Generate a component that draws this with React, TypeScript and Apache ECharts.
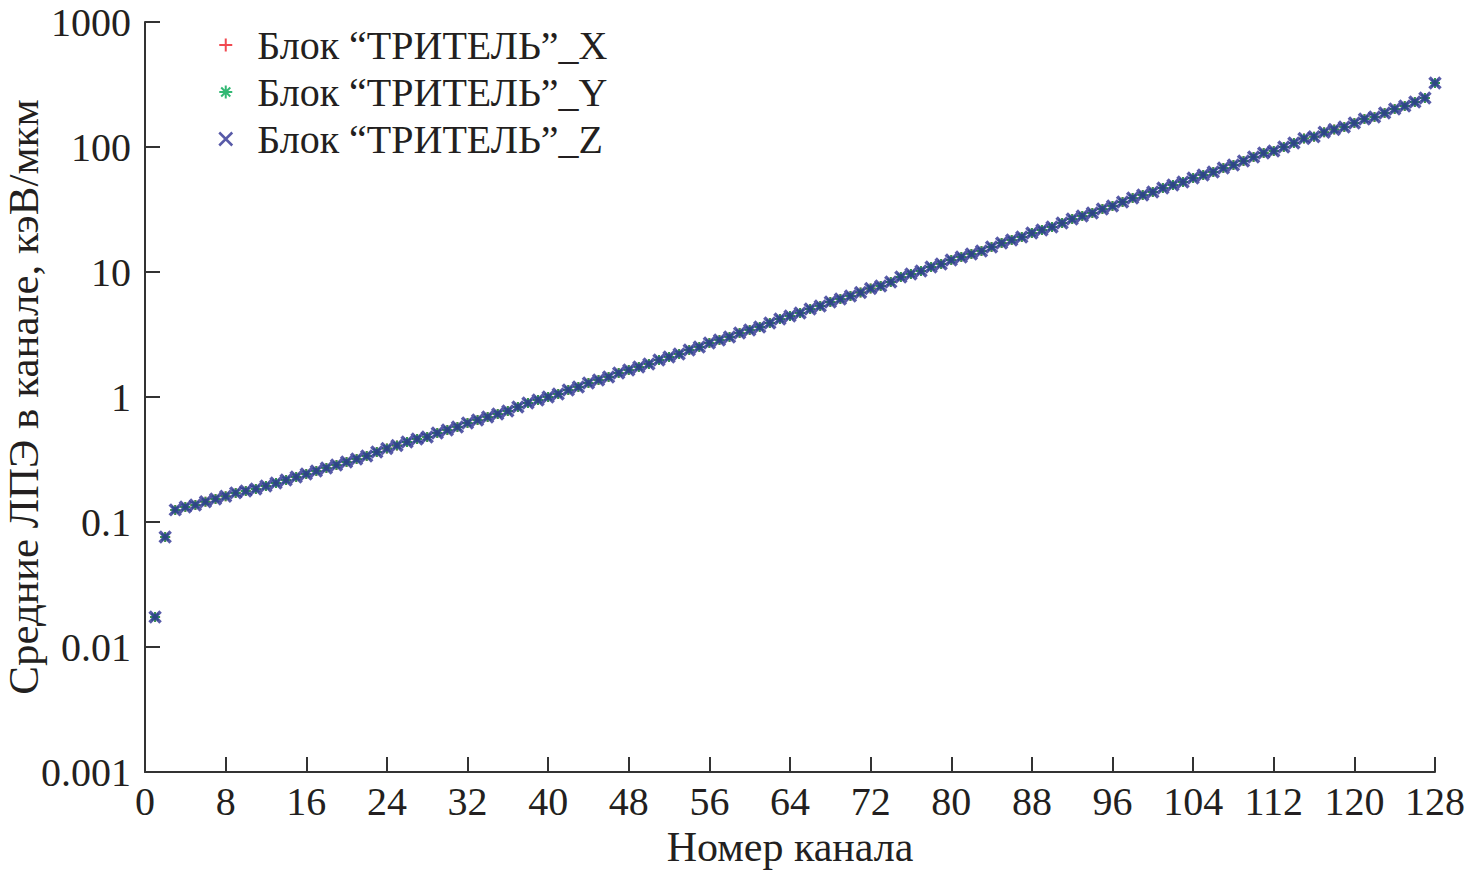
import React, { useEffect, useRef } from "react";
import * as echarts from "echarts";

const channels: number[] = Array.from({ length: 128 }, (_, i) => i + 1);

// Mean LET per channel (keV/um) (three blocks coincide)
const valuesX: number[] = [
  0.0174, 0.0759, 0.125, 0.132, 0.137, 0.145, 0.153, 0.161, 0.171, 0.177,
  0.184, 0.194, 0.205, 0.217, 0.229, 0.242, 0.256, 0.27, 0.286, 0.302,
  0.319, 0.337, 0.363, 0.388, 0.41, 0.437, 0.461, 0.479, 0.515, 0.545,
  0.575, 0.619, 0.655, 0.692, 0.731, 0.773, 0.832, 0.895, 0.946, 1.0,
  1.057, 1.138, 1.202, 1.294, 1.368, 1.445, 1.556, 1.644, 1.738, 1.837,
  1.977, 2.089, 2.208, 2.377, 2.512, 2.704, 2.858, 3.02, 3.25, 3.436,
  3.63, 3.91, 4.21, 4.45, 4.7, 5.06, 5.35, 5.75, 6.08, 6.43,
  6.85, 7.38, 7.73, 8.32, 9.12, 9.64, 10.19, 10.96, 11.59, 12.47,
  13.18, 13.93, 14.72, 15.85, 17.06, 18.03, 19.05, 20.51, 21.68, 22.91,
  24.66, 26.55, 28.05, 29.65, 31.92, 33.73, 36.31, 39.08, 41.3, 43.65,
  46.99, 49.66, 52.48, 56.49, 59.7, 63.1, 67.92, 71.78, 77.27, 83.18,
  89.54, 92.9, 100, 107.6, 117, 121, 131, 138, 144.5, 155.6,
  167.5, 173.8, 187, 201, 213, 229, 247, 325,
];
const valuesY: number[] = valuesX;
const valuesZ: number[] = valuesX;

const seriesNames: string[] = [
  "Блок “ТРИТЕЛЬ”_X",
  "Блок “ТРИТЕЛЬ”_Y",
  "Блок “ТРИТЕЛЬ”_Z",
];
const seriesColors: string[] = ["#ed1c24", "#00a651", "#2e3192"];
const yTickLabels: Record<string, string> = {
  "0.001": "0.001",
  "0.01": "0.01",
  "0.1": "0.1",
  "1": "1",
  "10": "10",
  "100": "100",
  "1000": "1000",
};

const PLUS = "path://M5,0L5,10M0,5L10,5";
const STAR = "path://M5,0L5,10M0,5L10,5M1.5,1.5L8.5,8.5M8.5,1.5L1.5,8.5";
const CROSS = "path://M0,0L10,10M10,0L0,10";
const symbols = [PLUS, STAR, CROSS];

const FONT = "'Liberation Serif', 'DejaVu Serif', 'Times New Roman', serif";
const TXT = "#231f20";

export default function App() {
  const ref = useRef<HTMLDivElement>(null);
  useEffect(() => {
    if (!ref.current) return;
    const chart = echarts.init(ref.current, undefined, { renderer: "svg" });
    const allValues = [valuesX, valuesY, valuesZ];
    chart.setOption({
      animation: false,
      backgroundColor: "#ffffff",
      textStyle: { fontFamily: FONT },
      grid: {
        left: 145,
        right: 31,
        top: 22,
        bottom: 99,
        containLabel: false,
        outerBoundsMode: "none",
      },
      legend: {
        orient: "vertical",
        left: 213,
        top: 20,
        itemGap: 7,
        itemWidth: 13,
        itemHeight: 40,
        textStyle: {
          fontFamily: FONT,
          fontSize: 40,
          lineHeight: 40,
          color: TXT,
          padding: [0, 0, 0, 20],
        },
        data: seriesNames.map((n, i) => ({
          name: n,
          icon: symbols[i],
          itemStyle: {
            color: "transparent",
            borderColor: seriesColors[i],
            borderWidth: i === 2 ? 2.5 : 2,
          },
        })),
      },
      xAxis: {
        type: "value",
        min: 0,
        max: 128,
        interval: 8,
        name: "Номер канала",
        nameLocation: "middle",
        nameGap: 54,
        nameMoveOverlap: false,
        nameTextStyle: { fontFamily: FONT, fontSize: 42, lineHeight: 42, color: TXT },
        axisLine: { show: true, lineStyle: { color: "#333333", width: 2 } },
        axisTick: { show: true, inside: true, length: 15, lineStyle: { color: "#333333", width: 2 } },
        axisLabel: { fontFamily: FONT, fontSize: 40, lineHeight: 36, color: TXT, margin: 11 },
        splitLine: { show: false },
      },
      yAxis: {
        type: "log",
        logBase: 10,
        min: 0.001,
        max: 1000,
        name: "Средние ЛПЭ в канале, кэВ/мкм",
        nameLocation: "middle",
        nameGap: 100,
        nameMoveOverlap: false,
        nameTextStyle: { fontFamily: FONT, fontSize: 43, lineHeight: 43, color: TXT },
        axisLine: { show: true, lineStyle: { color: "#333333", width: 2 } },
        axisTick: { show: true, inside: true, length: 15, lineStyle: { color: "#333333", width: 2 } },
        axisLabel: {
          fontFamily: FONT,
          fontSize: 40,
          color: TXT,
          margin: 14,
          formatter: (v: number) => {
            const key = String(Number(v.toPrecision(3)));
            return yTickLabels[key] ?? key;
          },
        },
        splitLine: { show: false },
        minorTick: { show: false },
      },
      series: allValues.map((vals, i) => ({
        name: seriesNames[i],
        type: "scatter",
        symbol: symbols[i],
        symbolSize: i === 2 ? 11 : 10,
        itemStyle: {
          color: "transparent",
          borderColor: seriesColors[i],
          borderWidth: i === 2 ? 3.5 : 2,
        },
        data: channels.map((c, k) => [c, vals[k]]),
        z: 2 + i,
      })),
    });
    return () => chart.dispose();
  }, []);
  return (
    <div
      ref={ref}
      style={{ position: "fixed", left: 0, top: 0, width: 1466, height: 871, background: "#fff" }}
    />
  );
}
